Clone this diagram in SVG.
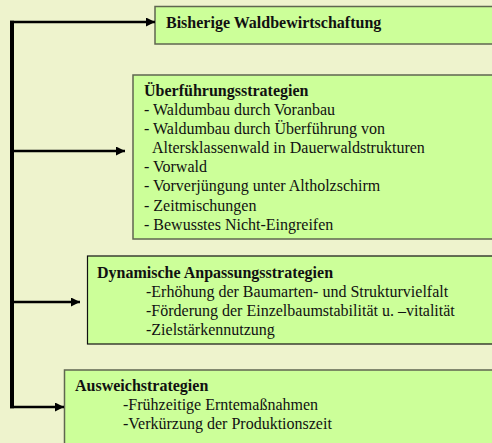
<svg xmlns="http://www.w3.org/2000/svg" width="492" height="443" viewBox="0 0 492 443">
  <defs>
    <marker id="arr" markerUnits="userSpaceOnUse" markerWidth="10" markerHeight="10" refX="9" refY="4.5" orient="auto">
      <path d="M0,0 L9,4.5 L0,9 Z" fill="#000"/>
    </marker>
  </defs>
  <style>
    .box { fill: #CCFF99; stroke: #5f6650; stroke-width: 1.5; }
    .box3 { stroke: #111; stroke-width: 1.2; }
    text { font-family: "Liberation Serif", "Times New Roman", serif; font-size: 16px; fill: #111; }
    .t { font-weight: bold; }
    .trunk { stroke: #000; stroke-width: 4; fill: none; }
    .con { stroke: #000; stroke-width: 2.5; fill: none; marker-end: url(#arr); }
  </style>
  <rect x="0" y="0" width="492" height="443" fill="#EEF3CD"/>

  <g id="node-bisherige">
    <rect class="box" x="155" y="6.5" width="345" height="37.5"/>
    <text class="t" x="166" y="28">Bisherige Waldbewirtschaftung</text>
  </g>

  <g id="node-ueberfuehrung">
    <rect class="box" x="133" y="75" width="367" height="164"/>
    <text class="t" x="144" y="96">Überführungsstrategien</text>
    <text x="144" y="115">- Waldumbau durch Voranbau</text>
    <text x="144" y="134">- Waldumbau durch Überführung von</text>
    <text x="152" y="153">Altersklassenwald in Dauerwaldstrukturen</text>
    <text x="144" y="172">- Vorwald</text>
    <text x="144" y="191">- Vorverjüngung unter Altholzschirm</text>
    <text x="144" y="210.5">- Zeitmischungen</text>
    <text x="144" y="229.5">- Bewusstes Nicht-Eingreifen</text>
  </g>

  <g id="node-dynamisch">
    <rect class="box box3" x="87.5" y="256" width="412" height="88"/>
    <text class="t" x="97" y="277.5">Dynamische Anpassungsstrategien</text>
    <text x="146" y="297">-Erhöhung der Baumarten- und Strukturvielfalt</text>
    <text x="146" y="316">-Förderung der Einzelbaumstabilität u. –vitalität</text>
    <text x="146" y="335">-Zielstärkennutzung</text>
  </g>

  <g id="node-ausweich">
    <rect class="box" x="64.5" y="370" width="435" height="80"/>
    <text class="t" x="75" y="391">Ausweichstrategien</text>
    <text x="123" y="410">-Frühzeitige Erntemaßnahmen</text>
    <text x="123" y="429">-Verkürzung der Produktionszeit</text>
  </g>

  <g id="connectors">
    <path class="trunk" d="M12,20.8 V408.3"/>
    <path class="con" d="M10,22 H155"/>
    <path class="con" d="M12,151 H125"/>
    <path class="con" d="M12,302 H80"/>
    <path class="con" d="M10,407 H64"/>
  </g>
</svg>
